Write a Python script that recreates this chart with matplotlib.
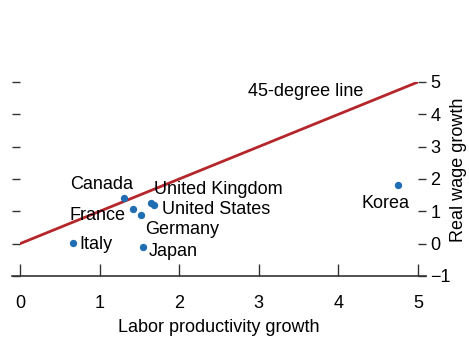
import matplotlib
matplotlib.use('Agg')
import matplotlib.pyplot as plt

plt.rcParams['font.family'] = ['Liberation Sans', 'DejaVu Sans']

countries = ['Canada', 'France', 'Germany', 'United Kingdom', 'United States', 'Italy', 'Japan', 'Korea']
productivity = [1.31, 1.42, 1.52, 1.65, 1.68, 0.67, 1.55, 4.75]
wages = [1.42, 1.08, 0.90, 1.25, 1.20, 0.03, -0.10, 1.80]
# label anchor points (data coords) and alignment
label_x = [1.02, 1.32, 1.57, 1.68, 1.78, 0.75, 1.62, 4.59]
label_y = [1.83, 0.88, 0.44, 1.68, 1.06, -0.02, -0.24, 1.25]
label_ha = ['center', 'right', 'left', 'left', 'left', 'left', 'left', 'center']

xticks = [0, 1, 2, 3, 4, 5]
yticks = [-1, 0, 1, 2, 3, 4, 5]

red = '#b5262b'
blue = '#1f6db3'
fs = 13

fig = plt.figure(figsize=(4.69, 3.38), dpi=100)
ax = fig.add_axes([20/469, 62/338, 398/469, 194/338])

ax.plot([0, 5], [0, 5], color=red, lw=2, zorder=2)
ax.scatter(productivity, wages, s=28, color=blue, zorder=3, linewidths=0)
for name, lx, ly, ha in zip(countries, label_x, label_y, label_ha):
    ax.text(lx, ly, name, ha=ha, va='center', fontsize=fs)
ax.text(2.86, 4.72, '45-degree line', ha='left', va='center', fontsize=fs)

ax.set_xlim(0, 5)
ax.set_ylim(-1, 5)
for s in ['top', 'left', 'right', 'bottom']:
    ax.spines[s].set_visible(False)
ax.plot([-0.02, 1.02], [0, 0], transform=ax.transAxes, color='#333333', lw=1.2, clip_on=False)

ax.set_xticks(xticks)
ax.set_yticks(yticks)
ax.tick_params(axis='x', direction='in', length=9, width=1, color='#333333', pad=14, labelsize=fs)
ax.tick_params(axis='y', which='both', left=True, right=True, labelleft=False, labelright=True,
               direction='out', length=6, width=1, color='#333333', pad=3, labelsize=fs)
ax.set_yticklabels([str(t).replace('-', '\u2212') for t in yticks])
fig.text(458/469, 1 - 170/338, 'Real wage growth', rotation=90, ha='center', va='center', fontsize=fs)
ax.set_xlabel('Labor productivity growth', fontsize=fs, labelpad=5)

fig.savefig('out.png', dpi=100)
